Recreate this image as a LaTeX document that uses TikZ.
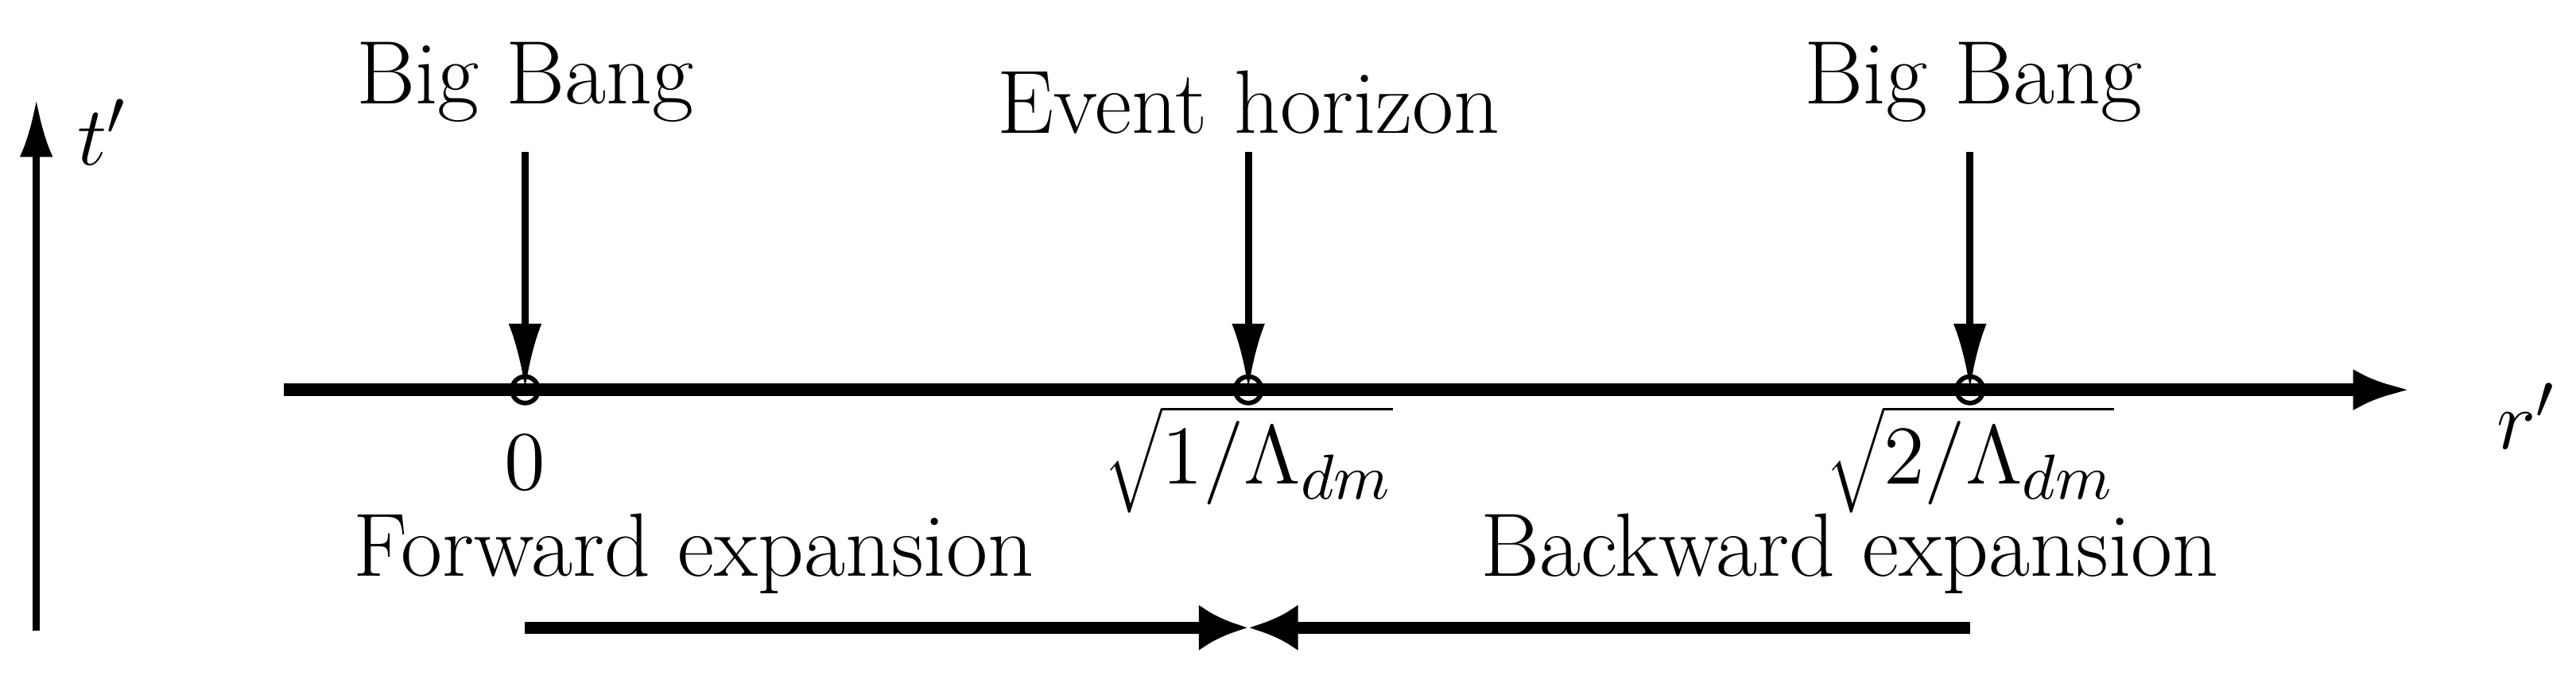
\documentclass[tikz,border=0pt]{standalone}
\usetikzlibrary{arrows.meta}
\begin{document}
\begin{tikzpicture}[x=0.01cm,y=-0.01cm,
  lbl/.style={font=\fontsize{15.5}{17}\selectfont, inner sep=0pt},
  pt/.style={circle,draw,thick,minimum size=0.16cm,inner sep=0pt},
  thin arr/.style={line width=1.2pt,-{Latex[length=0.4cm,width=0.2cm]}},
  thick arr/.style={line width=2.2pt,-{Latex[length=0.35cm,width=0.25cm]}}]
\useasboundingbox (0,0) rectangle (1560,409);
\coordinate (tb) at (22,382); \coordinate (tt) at (22,60);
\draw[line width=1.2pt,-{Latex[length=0.35cm,width=0.2cm]}] (tb) -- (tt);
\node[lbl] (tl) at (62,80) {$t'$};
\coordinate (ra) at (172,236); \coordinate (rb) at (1460,236);
\draw[thick arr] (ra) -- (rb);
\node[lbl] (rl) at (1530,252) {$r'$};
\node[pt] (p0) at (318,236) {};
\node[pt] (p1) at (756,236) {};
\node[pt] (p2) at (1193,236) {};
\node[lbl] (b0) at (318,50) {Big Bang};
\node[lbl] (eh) at (756,62) {Event horizon};
\node[lbl] (b2) at (1195,50) {Big Bang};
\coordinate (s0) at (318,92); \coordinate (s1) at (756,92); \coordinate (s2) at (1193,92);
\draw[thin arr] (s0) -- (p0.center);
\draw[thin arr] (s1) -- (p1.center);
\draw[thin arr] (s2) -- (p2.center);
\node[lbl] (z) at (318,280) {$0$};
\node[lbl] (q1) at (756,278) {$\sqrt{1/\Lambda_{dm}}$};
\node[lbl] (q2) at (1193,278) {$\sqrt{2/\Lambda_{dm}}$};
\node[lbl] (fe) at (420,335) {Forward expansion};
\node[lbl] (be) at (1120,335) {Backward expansion};
\coordinate (fl) at (318,380); \coordinate (fr) at (1193,380); \coordinate (m) at (756,380);
\draw[line width=2pt,-{Latex[length=0.3cm,width=0.28cm]}] (fl) -- (m);
\draw[line width=2pt,-{Latex[length=0.3cm,width=0.28cm]}] (fr) -- (m);
\end{tikzpicture}
\end{document}
